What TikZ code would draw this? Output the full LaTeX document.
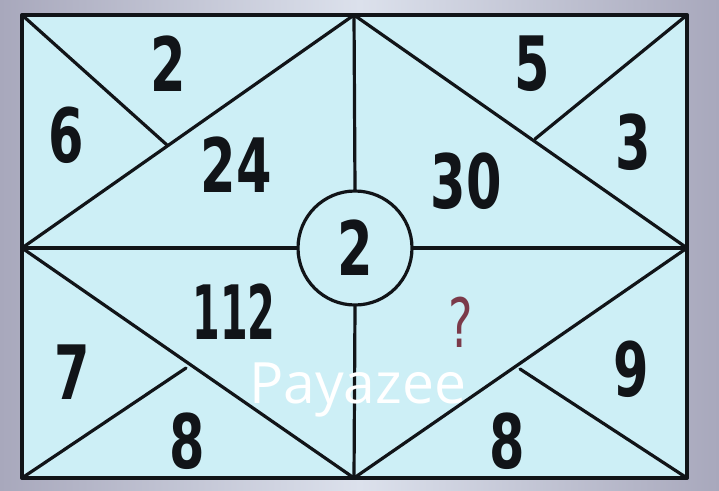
\documentclass[tikz,border=0pt]{standalone}
\usepackage{fontspec}
\usepackage{graphicx}
\newfontfamily\numfont{DejaVu Sans}[FakeStretch=0.68]
\newfontfamily\wmfont{Open Sans}
\definecolor{bgc}{HTML}{DCE1EC}
\definecolor{edgec}{HTML}{A8A8BC}
\definecolor{cyanfill}{HTML}{CDEFF6}
\definecolor{inkc}{HTML}{111418}
\definecolor{qc}{HTML}{7B3A4A}
\tikzset{
  ln/.style={draw=inkc, line width=3.2pt, line cap=round},
  num/.style={inner sep=0pt, text=inkc, font=\numfont\bfseries\fontsize{75}{75}\selectfont},
  qmark/.style={inner sep=0pt, text=qc, font=\numfont\fontsize{68}{68}\selectfont},
  wm/.style={inner sep=0pt, text=white, font=\wmfont\fontsize{57}{57}\selectfont, anchor=base west}
}
\begin{document}
\begin{tikzpicture}[x=1pt,y=-1pt]
\useasboundingbox (0,0) rectangle (719,490);
\shade[left color=edgec, right color=edgec, middle color=bgc] (0,0) rectangle (719,490);
% corners and points
\coordinate (TL) at (22,15);
\coordinate (TR) at (687,15);
\coordinate (BL) at (22,478);
\coordinate (BR) at (687,478);
\coordinate (TM) at (354,15);
\coordinate (BM) at (354,478);
\coordinate (ML) at (22,248);
\coordinate (MR) at (687,248);
\coordinate (pTL) at (167,145);
\coordinate (pTR) at (535,139);
\coordinate (pBL) at (186,368);
\coordinate (pBR) at (520,369);
\fill[cyanfill] (TL) rectangle (BR);
% top-left quadrant
\draw[ln] (ML) -- (TM);
\draw[ln] (TL) -- (pTL);
% top-right quadrant
\draw[ln] (TM) -- (MR);
\draw[ln] (TR) -- (pTR);
% bottom-left quadrant
\draw[ln] (ML) -- (BM);
\draw[ln] (BL) -- (pBL);
% bottom-right quadrant
\draw[ln] (MR) -- (BM);
\draw[ln] (BR) -- (pBR);
% centre circle
\node[circle, draw=inkc, line width=3.2pt, fill=cyanfill, minimum size=114pt, inner sep=0pt] (c) at (355,248) {};
\draw[ln] (ML) -- (c.west);
\draw[ln] (c.east) -- (MR);
\draw[ln] (TM) -- (c.north);
\draw[ln] (c.south) -- (BM);
% outer frame
\draw[draw=inkc, line width=4pt, line join=round] (TL) rectangle (BR);
% numbers
\node[num] (n2a) at (168,64) {2};
\node[num] (n6) at (66,135) {6};
\node[num] (n24) at (236,165) {24};
\node[num] (n5) at (532,64) {5};
\node[num] (n3) at (633,142) {3};
\node[num] (n30) at (466,181) {30};
\node[num] (nc) at (c) {2};
\node[num] (n112) at (234,312) {\scalebox{0.78}[1]{112}};
\node[num] (n7) at (72,372) {7};
\node[num] (n8a) at (187,441) {8};
\node[qmark] (nq) at (461,322) {?};
\node[num] (n9) at (631,369) {9};
\node[num] (n8b) at (507,441) {8};
% watermark
\node[wm] (w) at (249,403) {Payazee};
\end{tikzpicture}
\end{document}
